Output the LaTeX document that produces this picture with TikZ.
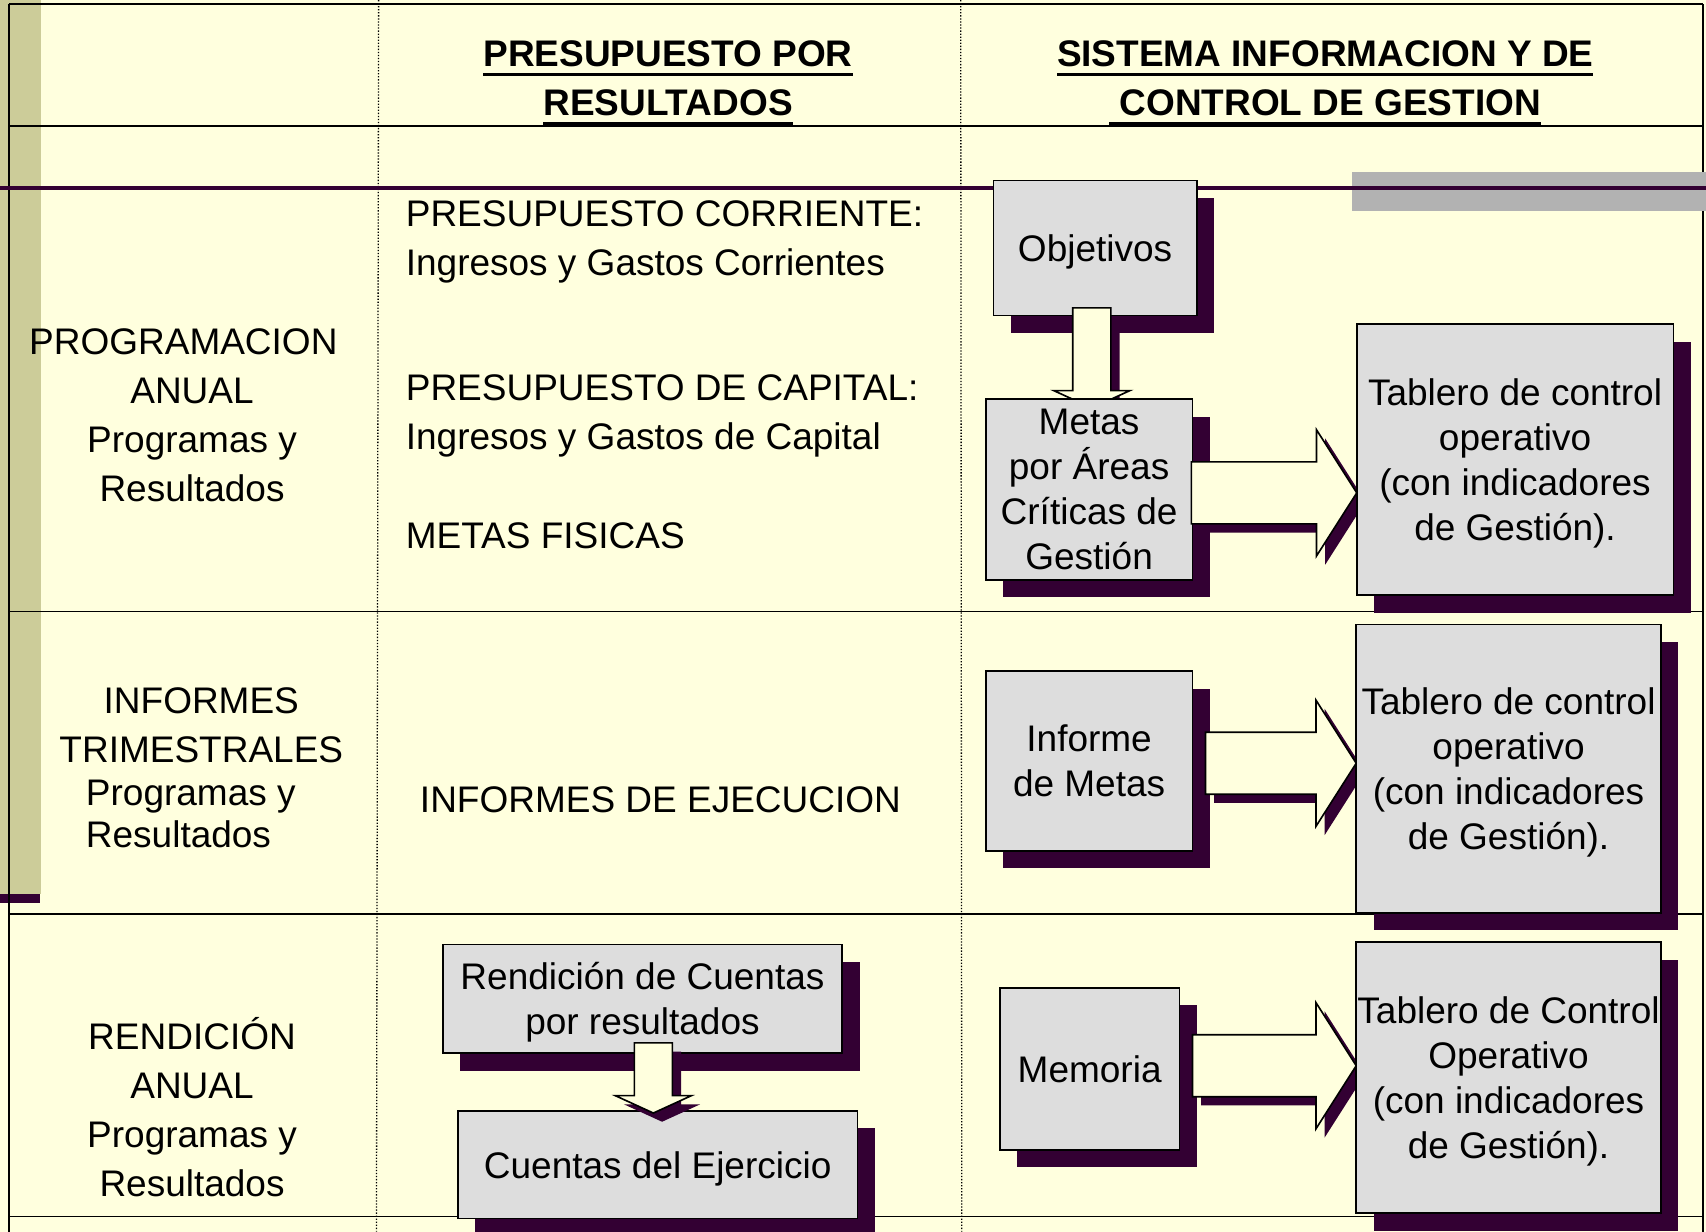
\documentclass[tikz,border=0pt]{standalone}
\usepackage{fontspec}
\setmainfont{Liberation Sans}
\usetikzlibrary{calc,shadows}
\pgfdeclarelayer{mid}
\pgfdeclarelayer{upper}
\pgfdeclarelayer{top}
\pgfsetlayers{main,mid,upper,top}
\definecolor{bgyellow}{HTML}{FFFFDE}
\definecolor{olivebar}{HTML}{CCCC99}
\definecolor{darkpurple}{HTML}{330033}
\definecolor{boxgray}{HTML}{DDDDDD}
\definecolor{bargray}{HTML}{B2B2B2}
\newcommand\hdul[1]{\vtop{\hbox{#1}\kern5.5pt\hrule height 3pt}}
% block arrow pointing right: #1 start of shaft, #2 tip, #3 shift
\newcommand\blockR[3]{($(#1)+(#3,#3)+(0,-28.5)$) -- ($(#2)+(#3,#3)+(-37,-28.5)$) -- ($(#2)+(#3,#3)+(-37,-58)$) -- ($(#2)+(#3,#3)$) -- ($(#2)+(#3,#3)+(-37,58)$) -- ($(#2)+(#3,#3)+(-37,28.5)$) -- ($(#1)+(#3,#3)+(0,28.5)$) -- cycle}
% block arrow pointing down: #1 top of shaft, #2 tip, #3 shift
\newcommand\blockD[3]{($(#1)+(#3,#3)+(-17.5,0)$) -- ($(#2)+(#3,#3)+(-17.5,-16)$) -- ($(#2)+(#3,#3)+(-35,-16)$) -- ($(#2)+(#3,#3)$) -- ($(#2)+(#3,#3)+(35,-16)$) -- ($(#2)+(#3,#3)+(17.5,-16)$) -- ($(#1)+(#3,#3)+(17.5,0)$) -- cycle}
\begin{document}
\begin{tikzpicture}[x=1pt,y=-1pt,
  every node/.style={inner sep=0pt, outer sep=0pt, font=\fontsize{34}{45}\selectfont},
  tbl/.style={anchor=base},
  tblw/.style={anchor=base west},
  hd/.style={anchor=base, font=\fontsize{34}{45}\selectfont\bfseries},
  sbox/.style={draw=black, line width=1.5pt, fill=boxgray, align=center,
    font=\fontsize{34}{41.4}\selectfont, text depth=0pt,
    drop shadow={shadow xshift=16pt, shadow yshift=-16pt, fill=darkpurple, opacity=1}},
  rulel/.style={line width=1.6pt, black},
  dotrule/.style={line width=1.2pt, black, dash pattern=on 1.2pt off 1.6pt},
  barrow/.style={draw=black, line width=1.5pt, fill=bgyellow, line join=miter},
  barrowshadow/.style={fill=darkpurple}]
\useasboundingbox (0,0) rectangle (1568,1132);
% background and decorations
\fill[bgyellow] (0,0) rectangle (1568,1132);
\fill[olivebar] (0,0) rectangle (38,822);
\fill[darkpurple] (0,822) rectangle (37,830);
% table rules
\draw[dotrule] (348,0) -- (346,1132);
\draw[dotrule] (883,0) -- (884,1132);
\draw[rulel] (8,4) -- (1565,4);
\draw[rulel] (8,116) -- (1565,116);
\draw[rulel] (8,562) -- (1565,562);
\draw[rulel] (8,840) -- (1565,840);
\draw[rulel] (8,1118) -- (1565,1118);
\draw[rulel] (8,4) -- (8,1132);
\draw[rulel] (1565,4) -- (1565,1132);
% slide decorations
\fill[bargray] (1243,158) rectangle (1568,194);
\draw[darkpurple, line width=3.5pt] (0,173) -- (1568,173);
% headers
\node[hd] (h1a) at (614,61) {\hdul{PRESUPUESTO POR}};
\node[hd] (h1b) at (614,106) {\hdul{RESULTADOS}};
\node[hd] (h2a) at (1218,61) {\hdul{SISTEMA INFORMACION Y DE}};
\node[hd] (h2b) at (1218,106) {\hdul{\ CONTROL DE GESTION}};
% column 1
\node[tbl] (c11) at (168.5,326) {PROGRAMACION};
\node[tbl] (c12) at (176.5,371) {ANUAL};
\node[tbl] (c13) at (176.5,416) {Programas y};
\node[tbl] (c14) at (176.5,461) {Resultados};
\node[tbl] (c21) at (185,656) {INFORMES};
\node[tbl] (c22) at (185,701) {TRIMESTRALES};
\node[tblw] (c23) at (79,740) {Programas y};
\node[tblw] (c24) at (79,779) {Resultados};
\node[tbl] (c31) at (176.5,965) {RENDICIÓN};
\node[tbl] (c32) at (176.5,1010) {ANUAL};
\node[tbl] (c33) at (176.5,1055) {Programas y};
\node[tbl] (c34) at (176.5,1100) {Resultados};
% column 2
\node[tblw] (p1) at (373,208.5) {PRESUPUESTO CORRIENTE:};
\node[tblw] (p2) at (373,253) {Ingresos y Gastos Corrientes};
\node[tblw] (p3) at (373,368) {PRESUPUESTO DE CAPITAL:};
\node[tblw] (p4) at (373,413) {Ingresos y Gastos de Capital};
\node[tblw] (p5) at (373,504) {METAS FISICAS};
\node[tblw] (p6) at (386,747) {INFORMES DE EJECUCION};
% column 2 boxes
\node[sbox, minimum width=367pt, minimum height=100pt] (ren) at (590.5,918) {Rendición de Cuentas\\por resultados};
\node[sbox, minimum width=367pt, minimum height=99pt] (cue) at (604.5,1070.5) {Cuentas del Ejercicio};
\coordinate (d2s) at ($(ren.south)+(10,-9.5)$);
\coordinate (d2t) at ($(d2s |- cue.north)+(0,2)$);
\fill[barrowshadow] \blockD{d2s}{d2t}{8};
\draw[barrow] \blockD{d2s}{d2t}{0};
% row 1, column 3
\node[sbox, minimum width=187pt, minimum height=124pt] (obj) at (1006.5,228) {Objetivos};
\begin{pgfonlayer}{mid}
\node[sbox, minimum width=190pt, minimum height=166pt] (met) at (1001,450) {Metas\\por Áreas\\Críticas de\\Gestión};
\end{pgfonlayer}
\begin{pgfonlayer}{top}
\node[sbox, minimum width=291pt, minimum height=249pt] (tc1) at (1392.5,422.5) {Tablero de control\\operativo\\(con indicadores\\de Gestión).};
\end{pgfonlayer}
\coordinate (d1s) at ($(obj.south)+(-3,-7)$);
\coordinate (d1t) at ($(d1s |- met.north)+(0,8)$);
\fill[barrowshadow] \blockD{d1s}{d1t}{8};
\draw[barrow] \blockD{d1s}{d1t}{0};
\coordinate (a1s) at ($(met.east)+(-1,3)$);
\coordinate (a1t) at (tc1.west |- a1s);
\begin{pgfonlayer}{upper}
\fill[barrowshadow] \blockR{a1s}{a1t}{8};
\draw[barrow] \blockR{a1s}{a1t}{0};
\end{pgfonlayer}
% row 2, column 3
\node[sbox, minimum width=190pt, minimum height=165pt] (inf) at (1001,699.5) {Informe\\de Metas};
\begin{pgfonlayer}{top}
\node[sbox, minimum width=280pt, minimum height=265pt] (tc2) at (1386.5,706.5) {Tablero de control\\operativo\\(con indicadores\\de Gestión).};
\end{pgfonlayer}
\coordinate (a2s) at ($(inf.east)+(12,2)$);
\coordinate (a2t) at (tc2.west |- a2s);
\begin{pgfonlayer}{upper}
\fill[barrowshadow] \blockR{a2s}{a2t}{8};
\draw[barrow] \blockR{a2s}{a2t}{0};
\end{pgfonlayer}
% row 3, column 3
\node[sbox, minimum width=165pt, minimum height=149pt] (mem) at (1001.5,982.5) {Memoria};
\begin{pgfonlayer}{top}
\node[sbox, minimum width=280pt, minimum height=249pt] (tc3) at (1386.5,990.5) {Tablero de Control\\Operativo\\(con indicadores\\de Gestión).};
\end{pgfonlayer}
\coordinate (a3s) at ($(mem.east)+(12,-3)$);
\coordinate (a3t) at (tc3.west |- a3s);
\begin{pgfonlayer}{upper}
\fill[barrowshadow] \blockR{a3s}{a3t}{8};
\draw[barrow] \blockR{a3s}{a3t}{0};
\end{pgfonlayer}
\end{tikzpicture}
\end{document}
